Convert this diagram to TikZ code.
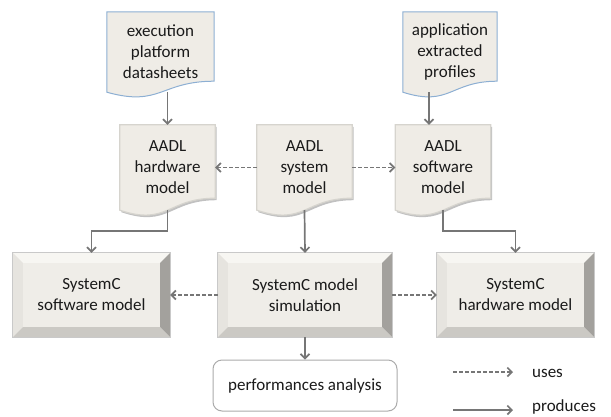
\documentclass[tikz,border=0pt]{standalone}
\usepackage{fontspec}
\setmainfont{Carlito}
\usetikzlibrary{arrows.meta,shadows,backgrounds,calc}
\definecolor{docfill}{HTML}{EFECE6}
\definecolor{docblue}{HTML}{8DAFD3}
\definecolor{arr}{HTML}{767676}
\definecolor{bevtop}{HTML}{F7F6F2}
\definecolor{bevleft}{HTML}{E6E4DF}
\definecolor{bevright}{HTML}{A3A19D}
\definecolor{bevbot}{HTML}{CBC9C4}
\definecolor{bevin}{HTML}{EFEDE8}
\definecolor{bevedge}{HTML}{C9C9C9}
\definecolor{aadledge}{HTML}{D6D4CE}
\definecolor{txt}{HTML}{1A1A1A}
\begin{document}
\begin{tikzpicture}[x=1pt,y=-1pt,
  lbl/.style={font=\fontsize{17}{21}\selectfont, text=txt, align=center, inner sep=0pt},
  topdoc/.style={lbl, minimum height=80pt},
  aadldoc/.style={lbl, minimum width=95pt, minimum height=85pt},
  bevbox/.style={lbl, minimum height=84pt},
  prodarrow/.style={draw=arr, line width=1.7pt, -{Straight Barb[length=4.5pt,width=9pt]}},
  usearrow/.style={prodarrow, dash pattern=on 3.5pt off 2.5pt},
  topdocfill/.style={fill=docfill, draw=docblue, line width=1pt},
  aadlfill/.style={fill=docfill, draw=aadledge, line width=1.2pt,
     drop shadow={shadow xshift=1.5pt, shadow yshift=-2pt, opacity=0.35, fill=black!70}}
]
\useasboundingbox (0,0) rectangle (611,416);

% documents
\node[topdoc, minimum width=107pt] (exec) at (160.5,52) {execution\\platform\\datasheets};
\node[topdoc, minimum width=94pt] (app) at (450,52) {application\\extracted\\profiles};
\node[aadldoc] (hw) at (167.5,167.5) {AADL\\hardware\\model};
\node[aadldoc] (sys) at (304.5,167.5) {AADL\\system\\model};
\node[aadldoc] (sw) at (443,167.5) {AADL\\software\\model};

% SystemC boxes
\node[bevbox, minimum width=157pt] (swc) at (91.5,295) {SystemC\\software model};
\node[bevbox, minimum width=174pt] (mid) at (305,295) {SystemC model\\simulation};
\node[bevbox, minimum width=157pt] (hwc) at (515.5,295) {SystemC\\hardware model};

\node[lbl, draw=black!33, line width=1pt, rounded corners=9pt, minimum width=184pt,
  minimum height=51pt, fill=white] (perf) at (305,385.5) {performances analysis};

\begin{scope}[on background layer]
  \foreach \n in {exec,app}{
    \path[topdocfill] (\n.north west) -- (\n.north east) -- ([yshift=11pt]\n.south east)
      .. controls ([yshift=11pt]\n.south) and ([yshift=-15pt]\n.south) .. (\n.south west) -- cycle;
  }
  \foreach \n in {hw,sys,sw}{
    \path[aadlfill] (\n.north west) -- (\n.north east) -- ([yshift=12pt]\n.south east)
      .. controls ([yshift=12pt]\n.south) and ([yshift=-16pt]\n.south) .. (\n.south west) -- cycle;
  }
  \foreach \n in {swc,mid,hwc}{
    \fill[bevin] (\n.north west) rectangle (\n.south east);
    \fill[bevtop] (\n.north west) -- (\n.north east) -- ([xshift=-10pt,yshift=-10pt]\n.north east)
      -- ([xshift=10pt,yshift=-10pt]\n.north west) -- cycle;
    \fill[bevleft] (\n.north west) -- ([xshift=10pt,yshift=-10pt]\n.north west)
      -- ([xshift=10pt,yshift=10pt]\n.south west) -- (\n.south west) -- cycle;
    \fill[bevright] (\n.north east) -- (\n.south east) -- ([xshift=-10pt,yshift=10pt]\n.south east)
      -- ([xshift=-10pt,yshift=-10pt]\n.north east) -- cycle;
    \fill[bevbot] (\n.south west) -- (\n.south east) -- ([xshift=-10pt,yshift=10pt]\n.south east)
      -- ([xshift=10pt,yshift=10pt]\n.south west) -- cycle;
    \draw[bevedge, line width=0.8pt] (\n.north west) rectangle (\n.south east);
  }
\end{scope}

% produces connectors
\draw[prodarrow] (exec.south -| hw.north) -- (hw.north);
\draw[prodarrow] ([xshift=-14pt]sw.north |- app.south) -- ([xshift=-14pt]sw.north);
\draw[prodarrow] (hw.south) |- ($(swc.north)+(0,-22)$) -- (swc.north);
\draw[prodarrow] (sw.south) |- ($(hwc.north)+(0,-22)$) -- (hwc.north);
\draw[prodarrow] (sys.south) -- (mid.north);
\draw[prodarrow] (mid.south) -- (perf.north);

% uses connectors
\draw[usearrow] (sys.west) -- (hw.east);
\draw[usearrow] (sys.east) -- (sw.west);
\draw[usearrow] (mid.west) -- (swc.east);
\draw[usearrow] (mid.east) -- (hwc.west);

% legend
\coordinate (u1) at (453,372);
\coordinate (u2) at (513,372);
\coordinate (p1) at (453,410);
\coordinate (p2) at (513,410);
\draw[usearrow] (u1) -- (u2);
\draw[prodarrow] (p1) -- (p2);
\node[lbl, anchor=base west] (usestxt) at (532,377) {uses};
\node[lbl, anchor=base west] (prodtxt) at (532,411.5) {produces};
\end{tikzpicture}
\end{document}
